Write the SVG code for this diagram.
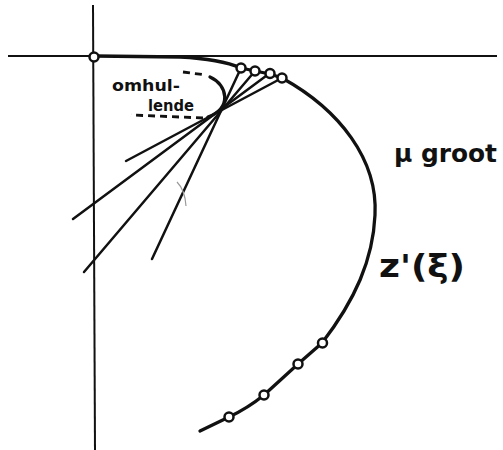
<svg xmlns="http://www.w3.org/2000/svg" width="503" height="450" viewBox="0 0 503 450">
<defs>
<style>
.axis{stroke:#111;stroke-width:2;fill:none}
.curve{stroke:#111;stroke-width:3.3;fill:none;stroke-linecap:round;stroke-linejoin:round}
.tan{stroke:#111;stroke-width:2.5;fill:none;stroke-linecap:round}
.dash{stroke:#111;stroke-width:2.8;fill:none;stroke-dasharray:7,5}
.pt{stroke:#111;stroke-width:2.5;fill:#fff}
.lbl{font-family:"DejaVu Sans",sans-serif;fill:#111}
</style>
</defs>
<rect width="503" height="450" fill="#fff"/>
<g id="axes">
<line class="axis" x1="8" y1="56" x2="497" y2="56"/>
<line class="axis" x1="93" y1="5" x2="95" y2="450"/>
</g>
<g id="connectors">
<line class="tan" x1="241" y1="68" x2="152" y2="259"/>
<line class="tan" x1="255" y1="71" x2="84" y2="272"/>
<line class="tan" x1="270" y1="73" x2="73" y2="219"/>
<line class="tan" x1="282" y1="78" x2="126" y2="161"/>
</g>
<g id="curve">
<path class="curve" d="M95,56 L180,57 Q220,59 241,68 L255,71 L270,74 L282,78 C340,110 378,160 375,215 C373,260 355,300 322,343 L298,364 L264,395 Q248,408 229,417 L200,431"/>
</g>
<g id="envelope">
<path class="dash" d="M183,72 L206,75"/>
<path class="curve" d="M210,77 C228,85 232,108 208,117"/>
<path class="dash" d="M203,118 L131,115"/>
</g>
<g id="points">
<circle class="pt" cx="94" cy="57" r="4.5"/>
<circle class="pt" cx="241" cy="68" r="4.5"/>
<circle class="pt" cx="255" cy="71" r="4.5"/>
<circle class="pt" cx="270" cy="73.5" r="4.5"/>
<circle class="pt" cx="282" cy="78" r="4.5"/>
<circle class="pt" cx="322.5" cy="343" r="4.5"/>
<circle class="pt" cx="298" cy="364" r="4.5"/>
<circle class="pt" cx="264" cy="395" r="4.5"/>
<circle class="pt" cx="229" cy="417" r="4.5"/>
</g>
<path d="M177,182 Q185,190 186,206" stroke="#999" stroke-width="1.2" fill="none"/>
<g id="labels">
<text class="lbl" x="112" y="91" font-size="15" font-weight="bold" textLength="68" lengthAdjust="spacingAndGlyphs">omhul-</text>
<text class="lbl" x="148" y="111" font-size="15" font-weight="bold" textLength="46" lengthAdjust="spacingAndGlyphs">lende</text>
<text class="lbl" x="394" y="162" font-size="25" font-weight="bold" textLength="103" lengthAdjust="spacingAndGlyphs">μ groot</text>
<text class="lbl" x="379" y="277" font-size="32" font-weight="bold" textLength="86" lengthAdjust="spacingAndGlyphs">z'(ξ)</text>
</g>
</svg>
